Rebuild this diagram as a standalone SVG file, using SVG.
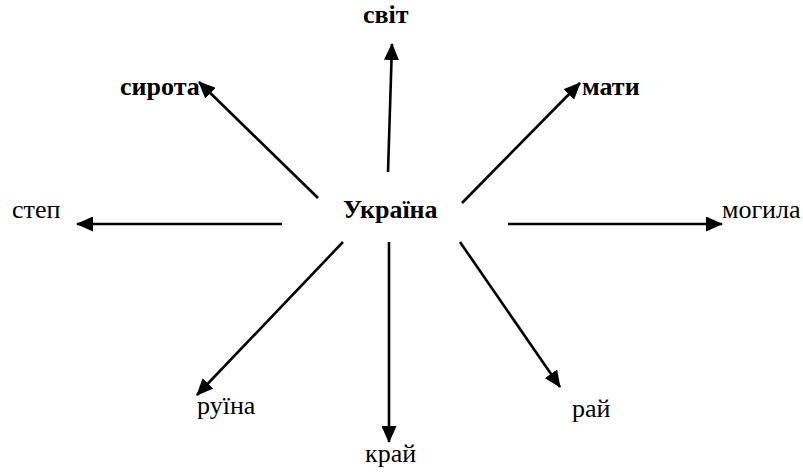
<svg xmlns="http://www.w3.org/2000/svg" width="803" height="472" viewBox="0 0 803 472">
<style>
text{font-family:"Liberation Serif","Times New Roman",serif;font-size:26px;fill:#000}
.b{font-weight:bold}
.c line{stroke:#000;stroke-width:2.6;marker-end:url(#ah)}
</style>
<defs>
<marker id="ah" markerUnits="userSpaceOnUse" markerWidth="17" markerHeight="15" refX="16" refY="7.5" orient="auto">
<path d="M0,0 L17,7.5 L0,15 z" fill="#000"/>
</marker>
</defs>
<rect width="803" height="472" fill="#fff"/>
<g class="c" id="connectors">
<line x1="388" y1="172" x2="392" y2="44"/>
<line x1="318" y1="198" x2="199" y2="82"/>
<line x1="462" y1="203" x2="580" y2="83"/>
<line x1="282" y1="224" x2="77" y2="224"/>
<line x1="508" y1="224" x2="722" y2="224"/>
<line x1="343" y1="242" x2="197" y2="395"/>
<line x1="389" y1="242" x2="389" y2="442"/>
<line x1="460" y1="242" x2="560" y2="387"/>
</g>
<g id="ukraina"><text class="b" x="343" y="218">Україна</text></g>
<g id="svit"><text class="b" x="363" y="23">світ</text></g>
<g id="syrota"><text class="b" x="120" y="95">сирота</text></g>
<g id="maty"><text class="b" x="582" y="95">мати</text></g>
<g id="step"><text x="12" y="218">степ</text></g>
<g id="mohyla"><text x="722" y="218">могила</text></g>
<g id="ruina"><text x="197" y="414">руїна</text></g>
<g id="krai"><text x="365" y="462">край</text></g>
<g id="rai"><text x="572" y="417">рай</text></g>
</svg>
